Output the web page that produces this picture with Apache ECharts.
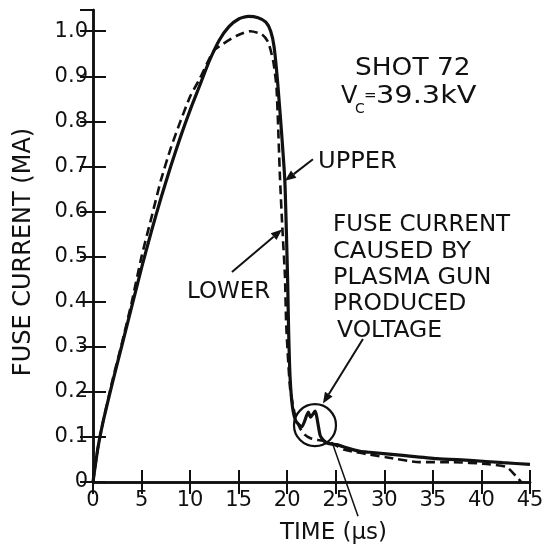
<!DOCTYPE html>
<html lang="en" style="height: 100%">
<head>
  <meta charset="utf-8">
</head>
<body style="height: 100%; margin: 0; background: #fff">
  <div id="container" style="width: 554px; height: 550px"></div>

  <script type="text/javascript" src="https://fastly.jsdelivr.net/npm/echarts@6/dist/echarts.min.js"></script>
  <script type="text/javascript">
    // solid curve (UPPER), time in us, current in MA
    const upperTime = [0, 0.5, 1, 2, 3, 4, 5, 6, 7, 8, 9, 10, 11, 12, 13, 14, 15, 16, 17, 17.8, 18.3, 18.65, 19.0, 19.4, 19.75, 19.92, 20.05, 20.15, 20.3, 20.55, 20.9, 21.5, 22.17, 22.4, 22.86, 23.38, 23.7, 24.0, 24.6, 25.1, 26.4, 27.5, 28.5, 31.9, 35.4, 38.8, 42.2, 45];
    const upperCurrent = [0, 0.075, 0.13, 0.22, 0.305, 0.39, 0.475, 0.555, 0.63, 0.7, 0.765, 0.825, 0.88, 0.935, 0.98, 1.01, 1.027, 1.033, 1.03, 1.02, 1.0, 0.965, 0.89, 0.78, 0.67, 0.55, 0.44, 0.33, 0.23, 0.165, 0.135, 0.122, 0.155, 0.144, 0.157, 0.104, 0.093, 0.087, 0.084, 0.083, 0.074, 0.068, 0.066, 0.059, 0.052, 0.048, 0.043, 0.039];

    // dashed curve (LOWER)
    const lowerTime = [0, 0.5, 1, 2, 3, 4, 5, 6, 7, 8, 9, 10, 11, 12, 12.5, 13.4, 14.8, 16.2, 17.4, 18.05, 18.57, 18.9, 19.26, 19.5, 19.77, 19.9, 20.3, 20.8, 21.3, 21.8, 22.4, 23.2, 24.1, 25.1, 25.8, 27.1, 28.5, 30.2, 33.6, 37.0, 40.5, 42.6, 43.6, 44.1];
    const lowerCurrent = [0, 0.075, 0.13, 0.225, 0.31, 0.4, 0.5, 0.585, 0.67, 0.74, 0.8, 0.855, 0.895, 0.94, 0.958, 0.972, 0.99, 1.0, 0.993, 0.975, 0.932, 0.874, 0.672, 0.563, 0.455, 0.347, 0.207, 0.149, 0.12, 0.105, 0.097, 0.093, 0.09, 0.08, 0.072, 0.066, 0.061, 0.055, 0.044, 0.044, 0.04, 0.033, 0.012, 0];

    const xTicks = [0, 5, 10, 15, 20, 25, 30, 35, 40, 45];
    const yTicks = [0, 0.1, 0.2, 0.3, 0.4, 0.5, 0.6, 0.7, 0.8, 0.9, 1.0];

    var dom = document.getElementById('container');
    var myChart = echarts.init(dom, null, { renderer: 'canvas' });
    var option;

    const font = 'DejaVu Sans';
    const ink = '#111';

    function zip(xs, ys) {
      return xs.map(function (x, i) { return [x, ys[i]]; });
    }

    const frameAxis = {
      axisLine: { show: true, lineStyle: { color: ink, width: 2.5 } },
      splitLine: { show: false }
    };

    option = {
      animation: false,
      backgroundColor: '#fff',
      grid: { left: 93, right: 24, top: 10, bottom: 57 },
      xAxis: [
        Object.assign({
          type: 'value',
          min: xTicks[0],
          max: xTicks[xTicks.length - 1],
          interval: 5,
          position: 'bottom',
          axisTick: { inside: true, length: 12, lineStyle: { color: ink, width: 2 } },
          axisLabel: { margin: 8, fontFamily: font, fontSize: 21, color: ink, lineHeight: 21 },
          name: 'TIME (\u03bcs)',
          nameLocation: 'middle',
          nameGap: 40,
          nameTextStyle: { fontFamily: font, fontSize: 23, color: ink, padding: [0, 0, 0, 44] }
        }, frameAxis),
        Object.assign({
          type: 'value',
          min: xTicks[0],
          max: xTicks[xTicks.length - 1],
          interval: 5,
          position: 'top',
          axisTick: { inside: true, length: 12, lineStyle: { color: ink, width: 2 } },
          axisLabel: { show: false }
        }, frameAxis)
      ],
      yAxis: [
        Object.assign({
          type: 'value',
          min: yTicks[0],
          max: 1.047,
          interval: 0.1,
          position: 'left',
          axisTick: { inside: true, length: 13, lineStyle: { color: ink, width: 2 } },
          axisLabel: {
            margin: 5,
            fontFamily: font,
            fontSize: 21,
            color: ink,
            showMaxLabel: false,
            formatter: function (v) {
              if (v > 1.0001) return '';
              return v === 0 ? '0' : v.toFixed(1);
            }
          },
          name: 'FUSE CURRENT (MA)',
          nameLocation: 'middle',
          nameGap: 57,
          nameRotate: 90,
          nameTextStyle: { fontFamily: font, fontSize: 24, color: ink, padding: [0, 12, 0, 0] }
        }, frameAxis),
        Object.assign({
          type: 'value',
          min: yTicks[0],
          max: 1.047,
          interval: 0.1,
          position: 'right',
          axisTick: { inside: true, length: 13, lineStyle: { color: ink, width: 2 } },
          axisLabel: { show: false }
        }, frameAxis)
      ],
      series: [
        {
          name: 'UPPER',
          type: 'line',
          data: zip(upperTime, upperCurrent),
          showSymbol: false,
          smooth: 0.2,
          lineStyle: { color: ink, width: 3.2 }
        },
        {
          name: 'LOWER',
          type: 'line',
          data: zip(lowerTime, lowerCurrent),
          showSymbol: false,
          smooth: 0.2,
          lineStyle: { color: ink, width: 2.6, type: [9, 5] }
        }
      ]
    };

    myChart.setOption(option);

    // annotations: arrows, circle and lettering
    function px(pt) {
      return myChart.convertToPixel({ gridIndex: 0 }, pt);
    }

    function arrow(from, to) {
      const a = px(from), b = px(to);
      const dx = b[0] - a[0], dy = b[1] - a[1];
      const len = Math.sqrt(dx * dx + dy * dy);
      const ux = dx / len, uy = dy / len;
      const hl = 11, hw = 4.5;
      const bx = b[0] - ux * hl, by = b[1] - uy * hl;
      return [
        {
          type: 'line',
          shape: { x1: a[0], y1: a[1], x2: bx, y2: by },
          style: { stroke: ink, lineWidth: 2 }
        },
        {
          type: 'polygon',
          shape: { points: [b, [bx - uy * hw, by + ux * hw], [bx + uy * hw, by - ux * hw]] },
          style: { fill: ink }
        }
      ];
    }

    function label(text, x, y, size, sx) {
      return {
        type: 'text',
        x: x,
        y: y,
        scaleX: sx || 1,
        style: {
          text: text,
          fontFamily: font,
          fontSize: size || 23,
          fill: ink,
          textVerticalAlign: 'middle'
        }
      };
    }

    const circleCenter = px([22.86, 0.126]);

    const graphics = []
      .concat(arrow([22.65, 0.716], [19.77, 0.668]))
      .concat(arrow([14.31, 0.466], [19.46, 0.560]))
      .concat(arrow([27.8, 0.317], [23.68, 0.174]))
      .concat([
        {
          type: 'circle',
          shape: { cx: circleCenter[0], cy: circleCenter[1], r: 21 },
          style: { fill: 'none', stroke: ink, lineWidth: 2.2 }
        },
        (function () {
          const a = px([24.61, 0.089]), b = px([27.29, -0.076]);
          return {
            type: 'line',
            shape: { x1: a[0], y1: a[1], x2: b[0], y2: b[1] },
            style: { stroke: ink, lineWidth: 1.5 }
          };
        })(),
        label('SHOT 72', 355, 69, 24, 1.1),
        label('V', 341, 97, 24),
        label('C', 355, 109, 14),
        label('=', 364, 96, 15),
        label('39.3kV', 376, 97, 24, 1.2),
        label('UPPER', 318, 162, 23, 1.05),
        label('FUSE CURRENT', 333, 225, 23),
        label('CAUSED BY', 333, 252, 23, 1.05),
        label('PLASMA GUN', 333, 278, 23, 1.04),
        label('PRODUCED', 333, 304, 23, 1.02),
        label('VOLTAGE', 337, 331, 23, 1.02),
        label('LOWER', 187, 292, 23)
      ]);

    myChart.setOption({ graphic: graphics });

    window.addEventListener('resize', myChart.resize);
  </script>
</body>
</html>
